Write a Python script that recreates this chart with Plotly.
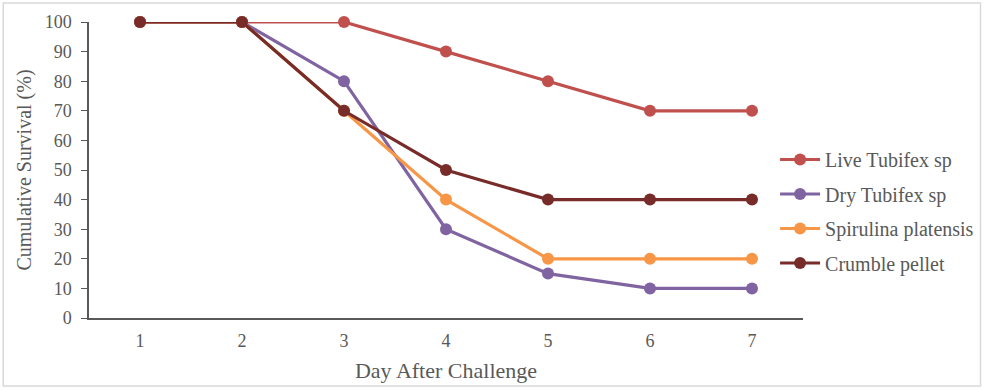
import plotly.graph_objects as go

days = [1, 2, 3, 4, 5, 6, 7]
live_tubifex = [100, 100, 100, 90, 80, 70, 70]
dry_tubifex = [100, 100, 80, 30, 15, 10, 10]
spirulina = [100, 100, 70, 40, 20, 20, 20]
crumble = [100, 100, 70, 50, 40, 40, 40]

series = [
    ("Live Tubifex sp", live_tubifex, "#C0504D"),
    ("Dry Tubifex sp", dry_tubifex, "#8064A2"),
    ("Spirulina platensis", spirulina, "#F79646"),
    ("Crumble pellet", crumble, "#772C2A"),
]

W, H = 991, 390
L, R, T, B = 89, 186, 22, 72
pw, ph = W - L - R, H - T - B

fig = go.Figure()
for i, (name, vals, col) in enumerate(series):
    fig.add_trace(go.Scatter(
        x=days, y=vals, name=name, mode="lines+markers",
        line=dict(color=col, width=3.2),
        marker=dict(color=col, size=12),
        cliponaxis=False, legendgroup=f"g{i}",
    ))

font = dict(family="Liberation Serif, Times New Roman, serif", color="#595959")

fig.update_layout(
    width=W, height=H,
    margin=dict(l=L, r=R, t=T, b=B),
    paper_bgcolor="white", plot_bgcolor="white",
    font=dict(**font, size=18),
    showlegend=True,
    legend=dict(
        x=(777 - L) / pw, y=(H - B - 140) / ph, xanchor="left", yanchor="top",
        font=dict(**font, size=20), tracegroupgap=5.5,
        bgcolor="rgba(0,0,0,0)", itemwidth=40,
    ),
    xaxis=dict(
        range=[0.5, 7.5], tickvals=days, ticktext=[str(d) for d in days],
        showgrid=False, zeroline=False, showline=True, linecolor="#595959",
        linewidth=1.5, ticks="", tickfont=dict(**font, size=18),
        ticklabelstandoff=6,
        title=dict(text="Day After Challenge", font=dict(**font, size=22), standoff=12),
    ),
    yaxis=dict(
        range=[0, 100], tickvals=list(range(0, 101, 10)),
        showgrid=False, zeroline=False, showline=True, linecolor="#595959",
        linewidth=1.5, ticks="outside", ticklen=6, tickcolor="#595959",
        tickfont=dict(**font, size=18), ticklabelstandoff=6,
        title=dict(text="Cumulative Survival (%)", font=dict(**font, size=20), standoff=8),
    ),
    shapes=[dict(
        type="rect", xref="paper", yref="paper",
        x0=(3 - L) / pw, x1=(983 - L) / pw,
        y0=(H - B - 386) / ph, y1=(H - B - 3) / ph,
        line=dict(color="#D9D9D9", width=1.5), fillcolor="rgba(0,0,0,0)", layer="below",
    )],
)

fig.write_html("out.html", config={"displayModeBar": False},
               post_script="document.body.style.margin='0';")
